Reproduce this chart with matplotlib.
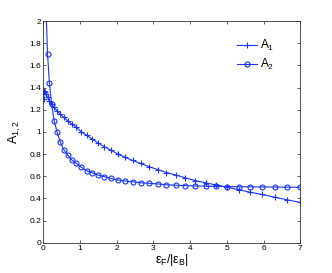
import matplotlib
matplotlib.use("Agg")
import matplotlib.pyplot as plt

plt.rcParams['font.family'] = ['Liberation Sans', 'DejaVu Sans']
plt.rcParams['mathtext.fontset'] = 'custom'
plt.rcParams['mathtext.rm'] = 'Liberation Sans'
plt.rcParams['mathtext.it'] = 'Liberation Sans'
plt.rcParams['mathtext.bf'] = 'Liberation Sans:bold'

# x values: eps_F / |eps_B|
eps_ratio = [0.005, 0.018, 0.041, 0.074, 0.115, 0.166, 0.226, 0.295, 0.373, 0.460,
             0.557, 0.663, 0.778, 0.902, 1.036, 1.178, 1.330, 1.491, 1.661, 1.841,
             2.030, 2.228, 2.435, 2.651, 2.876, 3.111, 3.355, 3.608, 3.871, 4.142,
             4.423, 4.713, 5.012, 5.320, 5.638, 5.965, 6.301, 6.646, 7.000]

A1 = [1.30, 1.37, 1.36, 1.34, 1.31, 1.28, 1.25, 1.22, 1.19, 1.16,
      1.13, 1.10, 1.07, 1.04, 1.00, 0.97, 0.935, 0.90, 0.866, 0.835,
      0.80, 0.77, 0.742, 0.715, 0.686, 0.66, 0.633, 0.61, 0.585, 0.56,
      0.54, 0.52, 0.50, 0.478, 0.455, 0.435, 0.41, 0.387, 0.363]

A2 = [6.0, 3.8, 2.6, 2.1, 1.70, 1.44, 1.25, 1.10, 1.00, 0.91,
      0.84, 0.79, 0.746, 0.716, 0.68, 0.65, 0.63, 0.61, 0.596, 0.58,
      0.566, 0.557, 0.55, 0.54, 0.536, 0.53, 0.523, 0.518, 0.515, 0.512,
      0.510, 0.508, 0.506, 0.505, 0.504, 0.503, 0.502, 0.501, 0.50]

series_labels = ['A$_1$', 'A$_2$']
x_ticks = [0, 1, 2, 3, 4, 5, 6, 7]
y_ticks = [0, 0.2, 0.4, 0.6, 0.8, 1.0, 1.2, 1.4, 1.6, 1.8, 2.0]
y_tick_labels = ['0', '0.2', '0.4', '0.6', '0.8', '1', '1.2', '1.4', '1.6', '1.8', '2']

color = '#1a33ff'

fig = plt.figure(figsize=(3.32, 2.73), dpi=100)
ax = fig.add_axes([0.1305, 0.111, 0.774, 0.812])

ax.plot(eps_ratio, A1, color=color, lw=0.8, marker='+', markersize=4.5,
        markeredgewidth=0.8, label=series_labels[0])
ax.plot(eps_ratio, A2, color=color, lw=0.8, marker='o', markersize=3.6,
        markerfacecolor='none', markeredgewidth=0.8, label=series_labels[1])

ax.set_xlim(0, 7)
ax.set_ylim(0, 2)
ax.set_xticks(x_ticks)
ax.set_xticklabels([str(t) for t in x_ticks])
ax.set_yticks(y_ticks)
ax.set_yticklabels(y_tick_labels)

ax.tick_params(direction='in', length=2.5, width=0.5, labelsize=6,
               top=True, right=True, pad=1.5, colors='#222222', labelcolor='black')
for s in ax.spines.values():
    s.set_linewidth(0.6)
    s.set_color('#333333')

ax.set_xlabel(r'$\varepsilon_F/|\varepsilon_B|$', fontsize=9, labelpad=0.5)
ax.set_ylabel(r'A$_{1,2}$', fontsize=9, labelpad=5)

leg = ax.legend(loc='upper right', bbox_to_anchor=(0.93, 0.96), frameon=False,
                fontsize=8.5, numpoints=1, handlelength=1.7, handletextpad=0.2,
                labelspacing=0.3, borderpad=0.2)

fig.savefig('out.png', dpi=100)
